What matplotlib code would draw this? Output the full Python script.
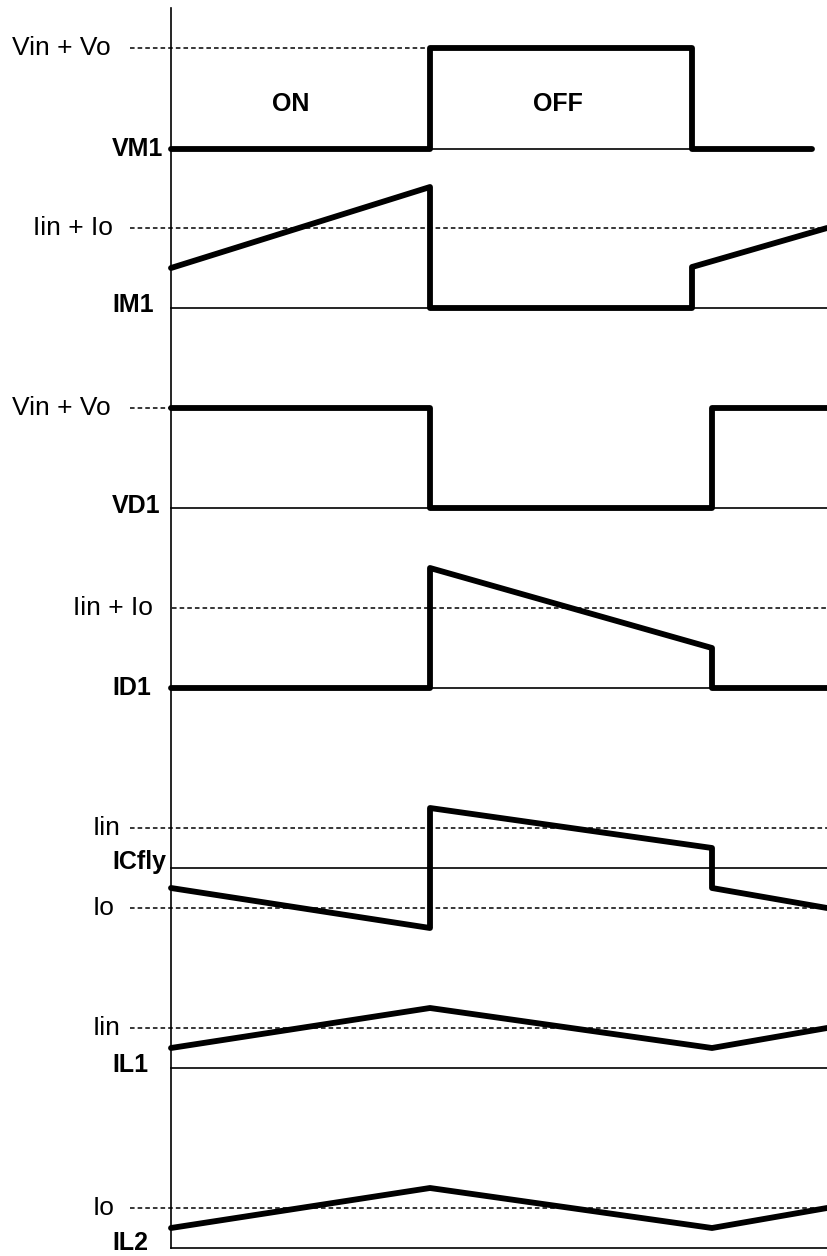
import matplotlib
matplotlib.use("Agg")
import matplotlib.pyplot as plt

plt.rcParams['font.family'] = ['Liberation Sans', 'DejaVu Sans']

# time axis (switching period), origin at the vertical axis
t_on = 259       # end of ON interval
t_m1 = 521       # VM1 / IM1 switch back
t_d1 = 541       # VD1 / ID1 / ICfly switch back
t_end = 656

# waveforms: (times, levels above own baseline)
vm1_t = [0, t_on, t_on, t_m1, t_m1, 641]
vm1_v = [0, 0, 101, 101, 0, 0]
im1_t = [0, t_on, t_on, t_m1, t_m1, t_end]
im1_v = [40, 121, 0, 0, 41, 80]
vd1_t = [0, t_on, t_on, t_d1, t_d1, t_end]
vd1_v = [100, 100, 0, 0, 100, 100]
id1_t = [0, t_on, t_on, t_d1, t_d1, t_end]
id1_v = [0, 0, 120, 40, 0, 0]
icfly_t = [0, t_on, t_on, t_d1, t_d1, t_end]
icfly_v = [-20, -60, 60, 20, -20, -40]
il1_t = [0, t_on, t_d1, t_end]
il1_v = [20, 60, 20, 40]
il2_t = [0, t_on, t_d1, t_end]
il2_v = [20, 60, 20, 40]

names = ["VM1", "IM1", "VD1", "ID1", "ICfly", "IL1", "IL2"]
waves = [(vm1_t, vm1_v), (im1_t, im1_v), (vd1_t, vd1_v), (id1_t, id1_v),
         (icfly_t, icfly_v), (il1_t, il1_v), (il2_t, il2_v)]

# reference levels: (signal index, level, label, dash start, dash end, label x)
refs = [
    (0, 101, "Vin + Vo", -41, t_on, -159),
    (1, 80, "Iin + Io", -41, t_end, -138),
    (2, 100, "Vin + Vo", -41, 0, -159),
    (3, 80, "Iin + Io", 1, t_end, -98),
    (4, 40, "Iin", -41, t_end, -78),
    (4, -40, "Io", -41, t_end, -78),
    (5, 40, "Iin", -41, t_end, -78),
    (6, 40, "Io", -41, t_end, -78),
]

# layout
base = [149, 308, 508, 688, 868, 1068, 1248]
base_end = [641, t_end, t_end, t_end, t_end, t_end, t_end]
name_dy = [0, 3, 2, 0, 6, 3, 5]

fig = plt.figure(figsize=(8.27, 12.56), dpi=100)
ax = fig.add_axes([0, 0, 1, 1])
ax.set_xlim(-171, 656)
ax.set_ylim(1256, 0)
ax.axis("off")

# vertical time axis
ax.plot([0, 0], [8, base[-1]], color="black", lw=1.2)

fs = 19
fs_b = 18
for i, (name, (t, v)) in enumerate(zip(names, waves)):
    b = base[i]
    ax.plot([0, base_end[i]], [b, b], color="black", lw=1.2)
    ax.plot(t, [b - y for y in v], color="black", lw=4.2,
            solid_capstyle="round", solid_joinstyle="round", zorder=3)
    ax.text(-59, b - name_dy[i], name, fontsize=fs_b, fontweight="bold",
            ha="left", va="center")

for i, lvl, lab, x0, x1, lx in refs:
    y = base[i] - lvl
    ax.plot([x0, x1], [y, y], color="black", lw=1.1, ls=(0, (3, 2)))
    ax.text(lx, y, lab, fontsize=fs, ha="left", va="center")

ax.text(120, 104, "ON", fontsize=fs_b, fontweight="bold", ha="center", va="center")
ax.text(387, 104, "OFF", fontsize=fs_b, fontweight="bold", ha="center", va="center")

fig.savefig("out.png", dpi=100)
